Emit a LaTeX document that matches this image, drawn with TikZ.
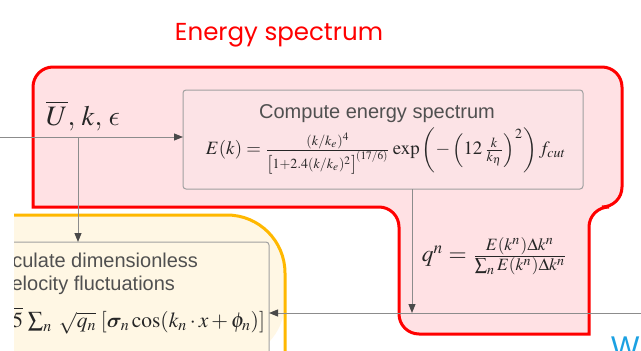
\documentclass[tikz,border=0pt]{standalone}
\usepackage{amsmath,bm}
\usepackage{mathptmx}
\usepackage[no-math]{fontspec}
\setsansfont{Liberation Sans}
\newfontfamily\titlefont{Poppins}
\DeclareSymbolFont{cmletters}{OML}{cmm}{m}{it}
\DeclareMathSymbol{\lunateeps}{\mathord}{cmletters}{"0F}
\usetikzlibrary{arrows.meta}
\definecolor{redline}{HTML}{FF0000}
\definecolor{pinkfill}{HTML}{FFE1E4}
\definecolor{boxfill}{HTML}{FCE3E6}
\definecolor{orangeline}{HTML}{FFB800}
\definecolor{creamfill}{HTML}{FFF7E4}
\definecolor{linegray}{HTML}{8C8C8C}
\definecolor{boxgray}{HTML}{A0A0A0}
\definecolor{headgray}{HTML}{4A4A4A}
\definecolor{txtgray}{HTML}{505050}
\definecolor{mathblack}{HTML}{262626}
\definecolor{wblue}{HTML}{1BA1E2}
\begin{document}
\begin{tikzpicture}[x=1pt,y=-1pt,
  every node/.style={inner sep=0pt, outer sep=0pt},
  conn/.style={draw=linegray, line width=1pt, -{Triangle[length=9pt,width=7pt,color=headgray]}},
  boxstyle/.style={draw=boxgray, line width=1pt, rounded corners=3pt},
  labeltxt/.style={font=\sffamily\fontsize{20}{24}\selectfont, text=txtgray},
  mathtxt/.style={text=mathblack}]
\useasboundingbox (0,0) rectangle (641,351);
\clip (0,0) rectangle (641,351);
\fill[white] (0,0) rectangle (641,351);

% title
\node[font=\titlefont, text=redline, anchor=base] (title) at (279,40) {\resizebox{208pt}{!}{Energy spectrum}};

% red region
\path[draw=redline, line width=3pt, fill=pinkfill]
  (300,67) [rounded corners=20pt] -- (622,67) -- (622,207) -- (589,207)
  [sharp corners] -- (589,334) [rounded corners=20pt] -- (399,334) -- (399,207)
  [sharp corners] -- (33,207) [rounded corners=20pt] -- (33,67) -- cycle;

% compute box
\node[boxstyle, fill=boxfill, minimum width=400pt, minimum height=99pt] (spec) at (383,139.5) {};
\node[labeltxt, anchor=base] (spectitle) at (377,118) {Compute energy spectrum};
\node[mathtxt] (specformula) at (386,151) {\resizebox{360pt}{!}{$E(k)=\frac{(k/k_e)^4}{\left[1+2.4(k/k_e)^2\right]^{(17/6)}}\exp\left(-\left(12\,\frac{k}{k_\eta}\right)^2\right)f_{cut}$}};

% inputs
\node[mathtxt, anchor=base west] (inputs) at (46,125) {\resizebox{74pt}{!}{$\overline{U},\,k,\,\lunateeps$}};

% q^n
\node[mathtxt] (qformula) at (495,256) {\resizebox{146pt}{!}{$q^n=\frac{E(k^n)\Delta k^n}{\sum_n E(k^n)\Delta k^n}$}};

% orange region (cut at the left)
\begin{scope}
\clip (14,200) rectangle (641,360);
\fill[creamfill] (14,360) -- (14,215) -- (200,215) [rounded corners=58pt] -- (285,215) -- (285,360) [sharp corners] -- cycle;
\draw[orangeline, line width=3pt, rounded corners=58pt] (14,215) -- (285,215) -- (285,360);

% calc box
\node[boxstyle, fill=creamfill, minimum width=389pt, minimum height=178pt] (calc) at (74.5,331) {};
\node[labeltxt, anchor=base east] (calcl1) at (198,267) {Calculate dimensionless};
\node[labeltxt, anchor=base east] (calcl2) at (175,290) {velocity fluctuations};
\node[mathtxt, anchor=east, font=\fontsize{21.5}{24}\selectfont] (calcf) at (265,321) {$u'=2\sqrt{1.5}\,\sum_n\;\sqrt{q_n}\;[\bm{\sigma}_n\cos(k_n\cdot x+\phi_n)]$};
\end{scope}

% connectors
\coordinate (inL) at (0,137);
\coordinate (branch) at (78,137);
\coordinate (hR) at (641,313);
\coordinate (qend) at (412,313);
\draw[conn] (inL) -- (inL -| spec.west);
\draw[conn] (branch) -- (branch |- calc.north);
\draw[conn] ([xshift=29pt]spec.south) -- (qend);
\draw[conn] (hR) -- (hR -| calc.east);

% partial blue label
\node[font=\sffamily\fontsize{30}{30}\selectfont, text=wblue, anchor=north west] (wlabel) at (611,337) {W};
\end{tikzpicture}
\end{document}
